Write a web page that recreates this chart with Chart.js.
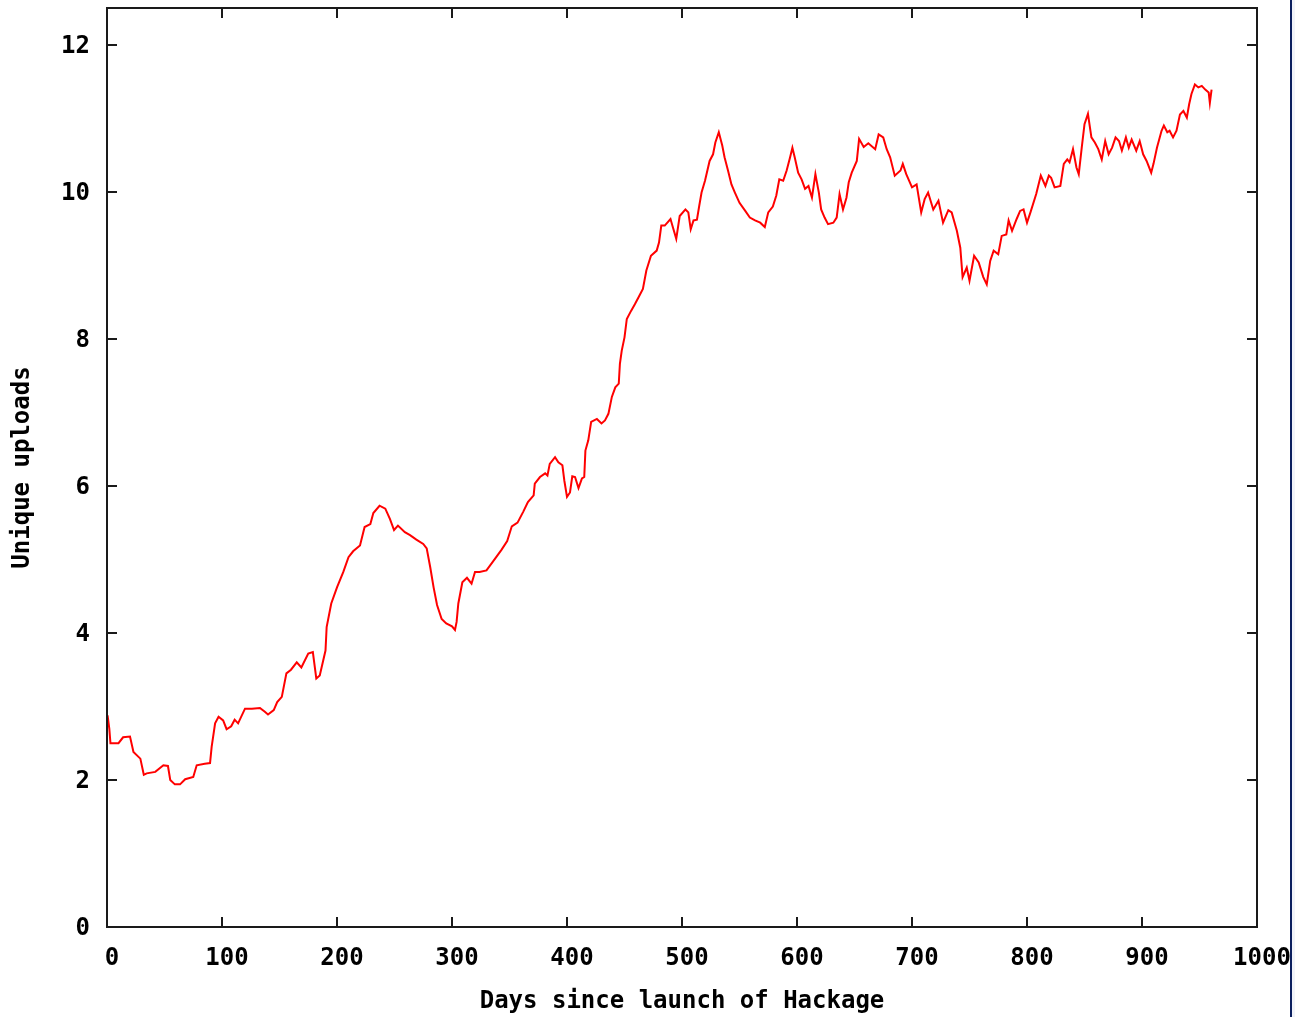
<!DOCTYPE html>
<html>
<head>
<meta charset="utf-8">
<script src="https://cdn.jsdelivr.net/npm/chart.js@4"></script>
<style>
  html, body { margin: 0; padding: 0; background: #ffffff; }
  #wrap { position: relative; width: 1295px; height: 1017px; overflow: hidden; }
  #edge { position: absolute; left: 1290px; top: 0; width: 2px; height: 1017px; background: #0b1f5e; }
  #side { position: absolute; left: 1292px; top: 0; width: 3px; height: 1017px; background: #f1f3f9; }
  canvas { position: absolute; left: 0; top: 0; }
</style>
</head>
<body>
<div id="wrap">
  <div id="edge"></div>
  <div id="side"></div>
  <canvas id="c" width="1295" height="1017"></canvas>
</div>
<script>
const days = [0.5,2,3,10,14,20,23,29,32,34.5,42,49,53,55,59,63.5,68,75,78,85,89.6,91,94,97,101,104,108,111,114,120,126,133,137,140,145,148,152,156,160,165,169,175,179,182,185,190,191,195,200,205.5,210,214,220,224,229,231.6,237,242,246,249.6,253,259,263.5,269,275,278,281,284,287,291,295,300,302.6,304,305.5,309,313,317,320,324,330,337,343,348,352,357,362,366,371,372,376.5,381,383,385,389.6,392.5,396,397.7,400,402.6,404.6,407,410,413,415,416,418.5,421,426,430,433,436,439,442,445,446,447.6,450,452,455.7,459,462,466,469,473,478,480,482,485,490,492,495,498,503,505.5,507.6,510,513,515,517,520,524,527,529,532,535,537,540,543,546,550,555,559,563.5,568,572,575,579,582,584.6,588,591,594,596,598,601,604,607,610,613,616,619,621,624,627,631.6,634.5,637,640,643,645,647.6,652,654,658,662,668,671,675,678,681,685,690,692,695,700,704,708,711,714,718.5,723,727,731.6,734.5,739,742,744,747.6,750,754,758,762,765,768,771,775,778,782,784,787,791,794,797,800,803,808,812,816,819,821,824,829,832,835,837,840,843,845,847.6,850,853,856,859,862,865,868,871,874,877,880,882.5,886,888.5,891,895,898,901,904,908,910,913,917,919,922,924,927,930,933,936,939,941,943,946,949,952,955,958,959,960.5];
const uploads = [2.88,2.70,2.50,2.50,2.58,2.59,2.38,2.29,2.07,2.09,2.11,2.20,2.19,2.00,1.94,1.94,2.01,2.04,2.20,2.22,2.23,2.45,2.77,2.86,2.81,2.69,2.73,2.82,2.77,2.97,2.97,2.98,2.93,2.89,2.95,3.06,3.13,3.45,3.50,3.60,3.53,3.72,3.74,3.38,3.42,3.76,4.08,4.40,4.62,4.83,5.03,5.11,5.19,5.44,5.48,5.63,5.73,5.69,5.55,5.40,5.46,5.37,5.33,5.27,5.21,5.15,4.90,4.62,4.38,4.19,4.13,4.09,4.04,4.15,4.40,4.69,4.75,4.67,4.83,4.83,4.85,5.00,5.13,5.25,5.45,5.50,5.65,5.78,5.87,6.03,6.12,6.17,6.14,6.30,6.39,6.32,6.28,6.07,5.85,5.91,6.13,6.12,5.97,6.10,6.12,6.48,6.62,6.87,6.91,6.85,6.89,6.98,7.21,7.34,7.39,7.66,7.84,8.02,8.27,8.38,8.47,8.56,8.68,8.93,9.13,9.20,9.31,9.54,9.54,9.63,9.52,9.36,9.67,9.76,9.72,9.49,9.61,9.62,9.81,9.99,10.15,10.42,10.51,10.67,10.81,10.63,10.47,10.29,10.10,9.99,9.85,9.74,9.65,9.61,9.58,9.52,9.72,9.80,9.95,10.17,10.15,10.29,10.47,10.60,10.47,10.26,10.17,10.04,10.08,9.92,10.24,9.99,9.76,9.65,9.56,9.58,9.65,9.97,9.76,9.92,10.13,10.26,10.42,10.72,10.61,10.66,10.58,10.78,10.74,10.58,10.47,10.22,10.29,10.38,10.24,10.06,10.10,9.72,9.90,9.99,9.76,9.88,9.58,9.75,9.72,9.47,9.24,8.84,8.97,8.79,9.13,9.04,8.84,8.74,9.06,9.20,9.15,9.40,9.42,9.61,9.47,9.63,9.74,9.76,9.58,9.72,9.97,10.22,10.08,10.22,10.19,10.06,10.08,10.38,10.44,10.40,10.58,10.33,10.24,10.60,10.92,11.06,10.74,10.67,10.58,10.44,10.69,10.51,10.60,10.74,10.69,10.56,10.74,10.60,10.71,10.56,10.69,10.51,10.42,10.26,10.38,10.60,10.83,10.90,10.81,10.83,10.74,10.83,11.05,11.10,11.01,11.19,11.33,11.46,11.42,11.44,11.39,11.35,11.21,11.39];
const xTicks = [0,100,200,300,400,500,600,700,800,900,1000];
const yTicks = [0,2,4,6,8,10,12];
const xTitle = 'Days since launch of Hackage';
const yTitle = 'Unique uploads';

const points = days.map((d, i) => ({x: d, y: uploads[i]}));
const FONT = {family: '"DejaVu Sans Mono", "Liberation Mono", monospace', size: 24, weight: 'bold'};

const framePlugin = {
  id: 'frame',
  afterDatasetsDraw(chart) {
    const {ctx, chartArea: a, scales} = chart;
    ctx.save();
    ctx.strokeStyle = '#1a1a1a';
    ctx.lineWidth = 2;
    ctx.strokeRect(a.left, a.top, a.right - a.left, a.bottom - a.top);
    const L = 10;
    ctx.beginPath();
    scales.x.ticks.forEach(t => {
      const px = Math.round(scales.x.getPixelForValue(t.value));
      ctx.moveTo(px, a.bottom); ctx.lineTo(px, a.bottom - L);
      ctx.moveTo(px, a.top); ctx.lineTo(px, a.top + L);
    });
    scales.y.ticks.forEach(t => {
      const py = Math.round(scales.y.getPixelForValue(t.value));
      ctx.moveTo(a.left, py); ctx.lineTo(a.left + L, py);
      ctx.moveTo(a.right, py); ctx.lineTo(a.right - L, py);
    });
    ctx.stroke();
    ctx.restore();
  }
};

new Chart(document.getElementById('c'), {
  type: 'line',
  data: {
    datasets: [{
      data: points,
      borderColor: '#ff0000',
      borderWidth: 2,
      pointRadius: 0,
      tension: 0,
      fill: false
    }]
  },
  options: {
    responsive: false,
    animation: false,
    events: [],
    layout: {padding: {top: 8, right: 38, bottom: 0, left: 0}},
    plugins: {legend: {display: false}, tooltip: {enabled: false}},
    scales: {
      x: {
        type: 'linear',
        min: 0, max: 1000,
        afterFit(s) { s.height = 90; s.paddingLeft = 0; s.paddingRight = 0; },
        afterBuildTicks(s) { s.ticks = xTicks.map(v => ({value: v})); },
        grid: {display: false, drawTicks: false},
        border: {display: false},
        ticks: {
          font: FONT, color: '#000', padding: 17, labelOffset: 5,
          autoSkip: false, maxRotation: 0, minRotation: 0,
          callback: v => String(v)
        },
        title: {display: true, text: xTitle, font: FONT, color: '#000', padding: {top: 0, bottom: 1}}
      },
      y: {
        type: 'linear',
        min: 0, max: 12.5,
        afterFit(s) { s.width = 107; s.paddingTop = 0; s.paddingBottom = 0; },
        afterBuildTicks(s) { s.ticks = yTicks.map(v => ({value: v})); },
        grid: {display: false, drawTicks: false},
        border: {display: false},
        ticks: {font: FONT, color: '#000', padding: 17, labelOffset: 2, callback: v => String(v)},
        title: {display: true, text: yTitle, font: FONT, color: '#000', padding: {top: 8, bottom: 0}}
      }
    }
  },
  plugins: [framePlugin]
});
</script>
</body>
</html>
